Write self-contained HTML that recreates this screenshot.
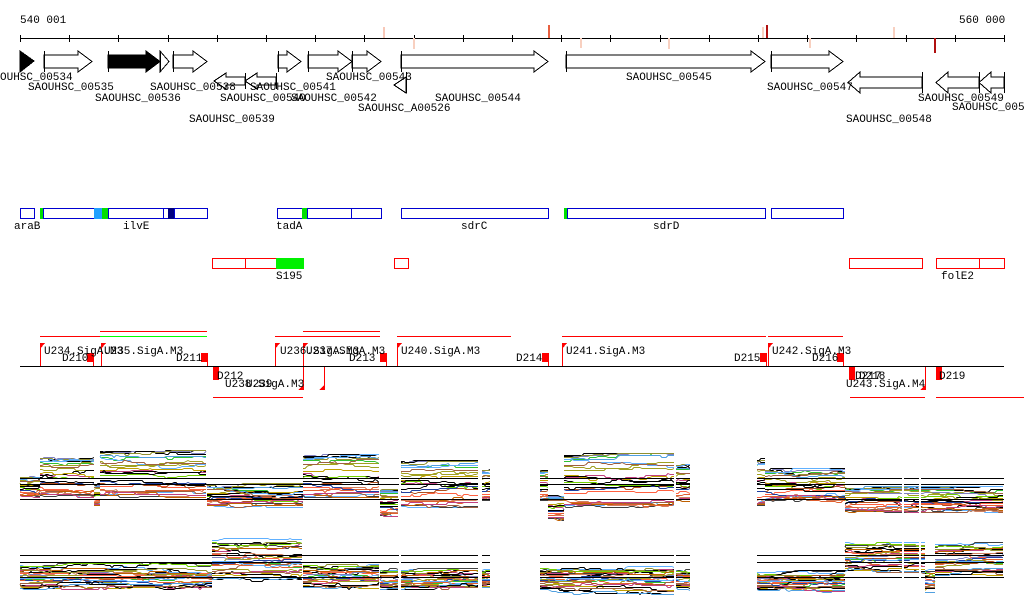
<!DOCTYPE html>
<html><head><meta charset="utf-8"><style>
html,body{margin:0;padding:0;background:#fff;width:1024px;height:611px;overflow:hidden}
svg{display:block}
text{font-family:"Liberation Mono",monospace;font-size:11px;fill:#000}
</style></head><body>
<svg id="s" width="1024" height="611" viewBox="0 0 1024 611" xmlns="http://www.w3.org/2000/svg">
<g id="g" shape-rendering="crispEdges"></g>
<text x="20" y="23">540 001</text>
<text x="959" y="23">560 000</text>
<text x="0" y="80">OUHSC_00534</text>
<text x="28" y="90">SAOUHSC_00535</text>
<text x="95" y="101">SAOUHSC_00536</text>
<text x="150" y="90">SAOUHSC_00538</text>
<text x="189" y="122">SAOUHSC_00539</text>
<text x="220" y="101">SAOUHSC_00540</text>
<text x="250" y="90">SAOUHSC_00541</text>
<text x="291" y="101">SAOUHSC_00542</text>
<text x="326" y="80">SAOUHSC_00543</text>
<text x="358" y="111">SAOUHSC_A00526</text>
<text x="435" y="101">SAOUHSC_00544</text>
<text x="626" y="80">SAOUHSC_00545</text>
<text x="767" y="90">SAOUHSC_00547</text>
<text x="846" y="122">SAOUHSC_00548</text>
<text x="918" y="101">SAOUHSC_00549</text>
<text x="952" y="110">SAOUHSC_0055</text>
<text x="14" y="229">araB</text>
<text x="123" y="229">ilvE</text>
<text x="276" y="229">tadA</text>
<text x="461" y="229">sdrC</text>
<text x="653" y="229">sdrD</text>
<text x="276" y="279">S195</text>
<text x="941" y="279">folE2</text>
<text x="44" y="354">U234.SigA.M3</text>
<text x="62" y="361">D210</text>
<text x="104" y="354">U235.SigA.M3</text>
<text x="176" y="361">D211</text>
<text x="217" y="379">D212</text>
<text x="225" y="387">U238.SigA.M3</text>
<text x="246" y="387">U239</text>
<text x="280" y="354">U236.SigA.M3</text>
<text x="306" y="354">U237.SigA.M3</text>
<text x="349" y="361">D213</text>
<text x="401" y="354">U240.SigA.M3</text>
<text x="516" y="361">D214</text>
<text x="566" y="354">U241.SigA.M3</text>
<text x="734" y="361">D215</text>
<text x="772" y="354">U242.SigA.M3</text>
<text x="812" y="361">D216</text>
<text x="855" y="379">D217</text>
<text x="859" y="379">D218</text>
<text x="846" y="387">U243.SigA.M4</text>
<text x="939" y="379">D219</text>
</svg>
<script>
var g=document.getElementById('g'),NS='http://www.w3.org/2000/svg';
function el(t,a){var e=document.createElementNS(NS,t);for(var k in a)e.setAttribute(k,a[k]);g.appendChild(e);return e}
function L(x1,y1,x2,y2,c,w){el('line',{x1:x1,y1:y1,x2:x2,y2:y2,stroke:c||'#000','stroke-width':w||1})}
function R(x,y,w,h,f,s){el('rect',{x:x+.5,y:y+.5,width:w,height:h,fill:f||'#fff',stroke:s||'none'})}
L(20,38.5,1004,38.5);
for(var i=0;i<=20;i++){var x=Math.round(20+i*49.2)+.5;L(x,35,x,42)}
[[383,27,38,'#f8c8b8'],[413,38,49,'#f8d0c0'],[548,25,38,'#e86040'],[580,38,48,'#f8d0c0'],[668,38,49,'#f8d0c0'],[762,27,38,'#f8d0c0'],[766,25,38,'#b01010'],[809,38,48,'#f8d0c0'],[893,27,38,'#f8d0c0'],[934,38,53,'#b01010']].forEach(function(m){el('rect',{x:m[0],y:m[1],width:2,height:m[2]-m[1],fill:m[3]})});
function fwd(a,b,f,yt){yt=yt||51;var h=Math.min(14,b-a),m=yt+10.5;
 el('polygon',{points:[a,yt+4,b-h,yt+4,b-h,yt,b,m,b-h,yt+21,b-h,yt+17,a,yt+17].join(' '),fill:f||'#fff',stroke:'#000'});
 L(a+.5,yt,a+.5,yt+21);}
function rev(a,b,yt,H){H=H||16;var h=12,q=Math.round(H/4);el('polygon',{points:[b,yt+q,a+h,yt+q,a+h,yt,a,yt+H/2,a+h,yt+H,a+h,yt+H-q,b,yt+H-q].join(' '),fill:'#fff',stroke:'#000'});L(b+.5,yt,b+.5,yt+H)}
el('polygon',{points:'20,51 34,61 20,72',fill:'#000',stroke:'#000'});
fwd(44,92);fwd(108,160,'#000');fwd(160,169);fwd(173,207);fwd(278,301);fwd(308,352);fwd(352,381);fwd(401,548);fwd(566,765);fwd(771,843);
rev(214,245,73);rev(245,276,73);rev(848,922,72,21);rev(936,979,72,21);rev(979,1004,72,21);
el('polygon',{points:'394,85 406,77 406,93',fill:'#fff',stroke:'#000'});L(406.5,72,406.5,93);
function B(a,b,f){R(a,208,b-a,10,f||'#fff','#0000d0')}
B(20,34);B(43,94);B(108,163);B(174,207);B(277,302);B(307,351);B(351,381);B(401,548);B(567,765);B(771,843);
el('rect',{x:40,y:208,width:3,height:11,fill:'#00e000'});el('rect',{x:94,y:208,width:8,height:11,fill:'#20a0ff'});el('rect',{x:102,y:208,width:6,height:11,fill:'#00e000'});
R(163,208,5,10,'#fff','#0000d0');el('rect',{x:168,y:208,width:6,height:11,fill:'#000080'});
el('rect',{x:302,y:208,width:5,height:11,fill:'#00e000'});el('rect',{x:564,y:208,width:3,height:11,fill:'#00e000'});
function Rb(a,b){R(a,258,b-a,10,'#fff','#ff0000')}
Rb(212,245);Rb(245,276);el('rect',{x:276,y:258,width:28,height:11,fill:'#00f000'});Rb(394,408);Rb(849,922);Rb(936,979);Rb(979,1004);
L(20,366.5,1004,366.5);
[[40,100,336],[100,207,331],[275,380,336],[303,380,331],[397,511,336],[562,766,336],[768,843,336],[213,303,397],[850,925,397],[936,1024,397]].forEach(function(s){L(s[0],s[2]+.5,s[1],s[2]+.5,'#ff0000')});
L(100,336.5,207,336.5,'#00ff00');
function up(x){L(x+.5,343,x+.5,366,'#f00');el('polygon',{points:[x,343,x+5,343,x,349].join(' '),fill:'#f00'})}
function dn(x){L(x+.5,367,x+.5,390,'#f00');el('polygon',{points:[x+1,384,x+1,390,x-5,390].join(' '),fill:'#f00'})}
function D(x,below){if(!below){el('rect',{x:x-6,y:353,width:6,height:9,fill:'#f00'});L(x+.5,353,x+.5,366,'#f00')}else{el('rect',{x:x,y:367,width:6,height:13,fill:'#f00'})}}
[40,101,275,303,397,562,768].forEach(up);[303,324,925].forEach(dn);
[93,207,386,548,766,843].forEach(function(x){D(x)});[213,849,936].forEach(function(x){D(x,1)});
var pal=['#e06030','#a0a020','#c04080','#60b0ff','#30c030','#a06040','#800080','#d08060','#ff6040','#8080c0','#c0a000','#404040','#e080a0','#70d000','#b05020','#2040a0','#c06000','#909030','#d03050','#50a0e0'];
var seed=7;function rnd(){seed=(seed*16807)%2147483647;return seed/2147483647}
function chart(segs,lines,gaps){
 for(var n=0;n<26;n++){var c=n%6==0?'#000':pal[n%pal.length];var pr=Math.pow(rnd(),1.3);
  segs.forEach(function(s){var pts=[];var y0=s[2]+(s[3]-s[2])*pr;var yy=y0;
   for(var x=s[0];x<=s[1];x+=2){if(rnd()<0.2){y0+=(rnd()-.5)*4}yy=Math.round(Math.max(s[2]-2,Math.min(s[3]+2,y0)))+.5;pts.push(x+','+yy)}
   el('polyline',{points:pts.join(' '),fill:'none',stroke:c,'stroke-width':1})});}
 lines.forEach(function(y){L(20,y+.5,1004,y+.5,'#000')});
 gaps.forEach(function(gp){el('rect',{x:gp[0],y:gp[2],width:gp[1]-gp[0],height:gp[3]-gp[2],fill:'#fff'})});
}
var gapsT=[[399,401,440,520],[478,482,440,520],[490,540,440,520],[674,676,440,520],[690,757,440,520],[902,904,440,520],[919,921,440,520]];
chart([[20,40,478,495],[40,94,458,495],[94,100,485,505],[100,207,452,495],[207,303,485,505],[303,380,456,495],[380,398,490,515],[400,478,462,505],[482,490,470,500],[540,548,470,500],[548,564,495,518],[564,674,455,505],[676,690,465,500],[757,765,460,505],[765,845,470,500],[845,1004,488,510]],[478,484,499],gapsT);
var gapsB=[[399,401,530,600],[478,482,530,600],[490,540,530,600],[674,676,530,600],[690,757,530,600],[902,904,530,600],[919,921,530,600]];
chart([[20,212,565,592],[212,303,540,585],[303,380,565,590],[380,398,570,592],[400,478,570,592],[482,490,570,590],[540,674,568,592],[676,690,570,590],[757,845,572,592],[845,925,542,575],[925,935,570,595],[935,1004,544,580]],[555,562,577],gapsB);
</script>
</body></html>
